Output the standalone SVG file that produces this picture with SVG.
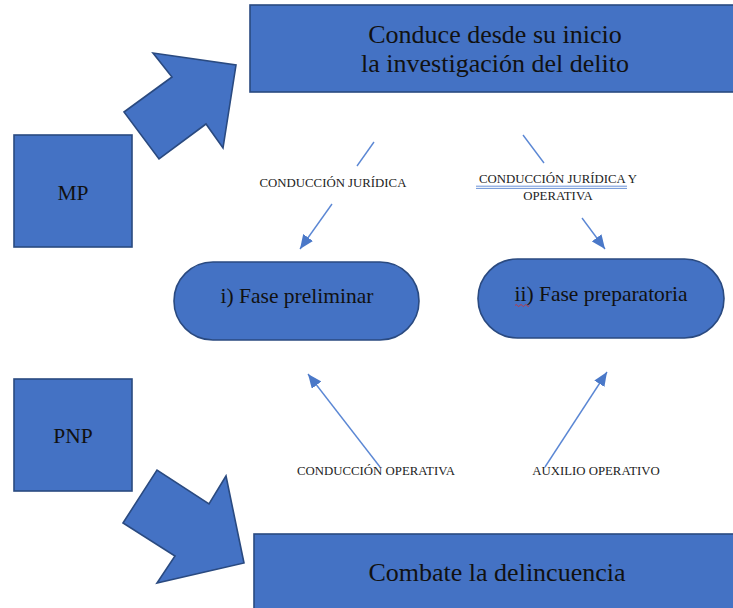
<svg xmlns="http://www.w3.org/2000/svg" width="733" height="608" viewBox="0 0 733 608">
<style>
.box{fill:#4472C4;stroke:#2A4A80;stroke-width:1.6}
.big{font-family:"Liberation Serif","Times New Roman",serif;font-size:26px;fill:#111;text-anchor:middle}
.mid{font-family:"Liberation Serif","Times New Roman",serif;font-size:21.5px;fill:#111;text-anchor:middle}
.sm{font-family:"Liberation Serif","Times New Roman",serif;font-size:12.8px;fill:#222;text-anchor:middle}
.ln{stroke:#5B87D4;stroke-width:1.4;fill:none}
</style>
<defs>
<marker id="ah" markerUnits="userSpaceOnUse" markerWidth="14" markerHeight="12" refX="14" refY="6" orient="auto">
<path d="M0,0 L14,6 L0,12 z" fill="#4A78C8"/>
</marker>
</defs>
<rect width="733" height="608" fill="#fff"/>
<g id="top-box">
<rect class="box" x="250" y="5" width="495" height="87"/>
<text class="big" x="495" y="43">Conduce desde su inicio</text>
<text class="big" x="495" y="72">la investigación del delito</text>
</g>
<g id="mp">
<rect class="box" x="14" y="135" width="118" height="112"/>
<text class="mid" x="73" y="200">MP</text>
</g>
<g id="mp-arrow">
<polygon class="box" points="124,112 172,77 153,53 236,65 223,148 206,124 159,159"/>
</g>
<g id="pnp">
<rect class="box" x="14" y="379" width="118" height="112"/>
<text class="mid" x="73" y="443">PNP</text>
</g>
<g id="pnp-arrow">
<polygon class="box" points="123,523 157,470 209,504 226,476 244,563 157,583 175,556"/>
</g>
<g id="bottom-box">
<rect class="box" x="254" y="534" width="495" height="90"/>
<text class="big" x="497" y="581">Combate la delincuencia</text>
</g>
<g id="fase-preliminar">
<rect class="box" x="174" y="262" width="245" height="78" rx="39" ry="39"/>
<text class="mid" x="297" y="303">i) Fase preliminar</text>
</g>
<g id="fase-preparatoria">
<rect class="box" x="478" y="259" width="246" height="79" rx="39.5" ry="39.5"/>
<text class="mid" x="601" y="301">ii) Fase preparatoria</text>
<path d="M515,305.5 q1.2,-2 2.4,0 t2.4,0 t2.4,0 t2.4,0 t2.4,0 t2.4,0" stroke="#D03030" stroke-width="0.9" fill="none"/>
</g>
<g id="connectors">
<line class="ln" x1="374" y1="142" x2="357" y2="166"/>
<line class="ln" x1="332" y1="204" x2="300" y2="249" marker-end="url(#ah)"/>
<line class="ln" x1="523" y1="135" x2="544" y2="163"/>
<line class="ln" x1="582" y1="218" x2="605" y2="249" marker-end="url(#ah)"/>
<line class="ln" x1="380" y1="467" x2="308" y2="374" marker-end="url(#ah)"/>
<line class="ln" x1="545" y1="467" x2="607" y2="372" marker-end="url(#ah)"/>
</g>
<g id="labels">
<text class="sm" x="333" y="187">CONDUCCIÓN JURÍDICA</text>
<text class="sm" x="558" y="183">CONDUCCIÓN  JURÍDICA Y</text>
<line x1="476" y1="186.2" x2="627" y2="186.2" stroke="#5B87D4" stroke-width="0.9"/>
<line x1="476" y1="188.4" x2="627" y2="188.4" stroke="#5B87D4" stroke-width="0.9"/>
<text class="sm" x="558" y="200">OPERATIVA</text>
<text class="sm" x="376" y="475">CONDUCCIÓN OPERATIVA</text>
<text class="sm" x="596" y="475">AUXILIO OPERATIVO</text>
</g>
</svg>
